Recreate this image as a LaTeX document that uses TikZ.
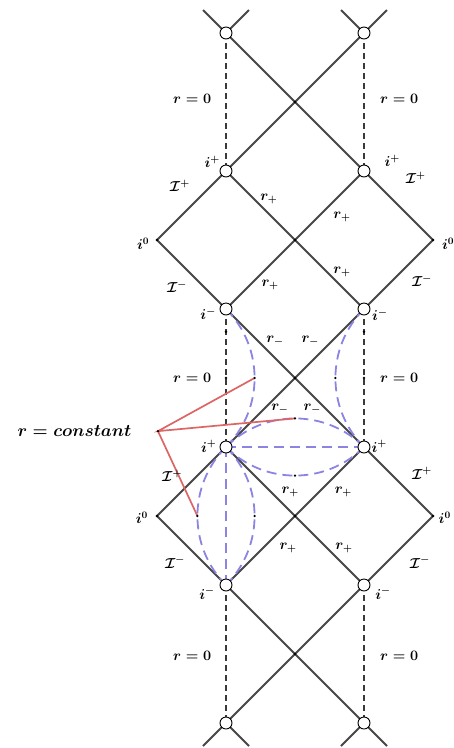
\documentclass[tikz,border=0pt]{standalone}
\usepackage{amsmath}
\usepackage{bm}
\usetikzlibrary{calc}
\definecolor{nullgray}{HTML}{474747}
\definecolor{singgray}{HTML}{3A3A3A}
\definecolor{rconstblue}{HTML}{8C84E2}
\definecolor{pointerred}{HTML}{DC6666}

\begin{document}
\begin{tikzpicture}[x=69pt, y=69pt,
	wline/.style={nullgray, line width=2pt},
	sing/.style={singgray, line width=2.2pt, dash pattern=on 6pt off 4pt},
	rconst/.style={rconstblue, line width=1.8pt, dash pattern=on 10pt off 6pt},
	pointer/.style={pointerred, line width=1.7pt},
	bdry/.style={circle, draw=black, fill=white, line width=0.9pt,
		inner sep=0pt, minimum size=12pt},
	lbl/.style={font=\fontsize{14}{16}\selectfont\boldmath, inner sep=0pt},
	gpoint/.style={circle, fill=black, inner sep=0pt, minimum size=2.6pt}]
	
	\useasboundingbox (-3.2754,0.4783) rectangle (3.3043,-10.3623);
	
	% Corner points on r = 0
	\foreach \k in {0,...,5} {
		\coordinate (L\k) at (0,-2*\k);
		\coordinate (R\k) at (2,-2*\k);
	}
	% Spatial infinity
	\coordinate (WL1) at (-1,-3);
	\coordinate (WR1) at (3,-3);
	\coordinate (WL3) at (-1,-7);
	\coordinate (WR3) at (3,-7);
	% Stub ends
	\coordinate (tl1) at (-0.3333,0.3333);
	\coordinate (tl2) at (0.3333,0.3333);
	\coordinate (tr1) at (1.6667,0.3333);
	\coordinate (tr2) at (2.3333,0.3333);
	\coordinate (bl1) at (-0.3333,-10.3333);
	\coordinate (bl2) at (0.3333,-10.3333);
	\coordinate (br1) at (1.6667,-10.3333);
	\coordinate (br2) at (2.3333,-10.3333);
	
	% --- Null lines ---
	\draw[wline] (tl1) -- (L0) -- (R1) -- (WR1) -- (R2) -- (L3) -- (WL3)
	-- (L4) -- (R5) -- (br2);
	\draw[wline] (tr2) -- (R0) -- (L1) -- (WL1) -- (L2) -- (R3) -- (WR3)
	-- (R4) -- (L5) -- (bl1);
	\draw[wline] (L1) -- (R2);
	\draw[wline] (R1) -- (L2);
	\draw[wline] (L3) -- (R4);
	\draw[wline] (R3) -- (L4);
	\draw[wline] (tl2) -- (L0);
	\draw[wline] (tr1) -- (R0);
	\draw[wline] (bl2) -- (L5);
	\draw[wline] (br1) -- (R5);
	
	% --- Singularities ---
	\foreach \a/\b in {L0/L1,R0/R1,L2/L3,R2/R3,L4/L5,R4/R5}
	\draw[sing] (\a) -- (\b);
	
	% --- r = constant curves ---
	\draw[rconst] (L2) arc[start angle=45, end angle=-45, radius=1.4142];
	\draw[rconst] (R2) arc[start angle=135, end angle=225, radius=1.4142];
	\draw[rconst] (L3) arc[start angle=135, end angle=45, radius=1.4142];
	\draw[rconst] (L3) arc[start angle=225, end angle=315, radius=1.4142];
	\draw[rconst] (L3) arc[start angle=135, end angle=225, radius=1.4142];
	\draw[rconst] (L3) arc[start angle=45, end angle=-45, radius=1.4142];
	\draw[rconst] (L3) -- (R3);
	\draw[rconst] (L3) -- (L4);
	
	% Curve points
	\coordinate (mA) at (0.4142,-5);
	\coordinate (mB) at (1.5858,-5);
	\coordinate (mC) at (1,-5.5858);
	\coordinate (mD) at (1,-6.4142);
	\coordinate (mE) at (-0.4142,-7);
	\coordinate (mF) at (0.4142,-7);
	\coordinate (rc) at (-0.986,-5.77);
	
	% --- Pointer ---
	\draw[pointer] (mA) -- (rc) -- (mC);
	\draw[pointer] (rc) -- (mE);
	\node[font=\fontsize{18.5}{22}\selectfont\boldmath, inner sep=0pt]
	(rconstlbl) at (-2.196,-5.77) {$r = constant$};
	
	% Small points
	\foreach \p [count=\n] in {(1,-1),(1,-3),(1,-5),(1,-7),(1,-9),
		(WL1),(WR1),(WL3),(WR3),(mA),(mB),(mC),(mD),(mE),(mF),(rc),
		(0,-4.33),(0,-5),(2,-4.33),(2,-5)}
	\node[gpoint] (pt\n) at \p {};
	
	% --- Boundary points ---
	\foreach \p in {L0,L1,L2,L3,L4,L5,R0,R1,R2,R3,R4,R5}
	\node[bdry] (o\p) at (\p) {};
	
	% --- Labels ---
	\foreach \y [count=\n] in {-0.96,-5,-9.03} {
		\node[lbl] (rzl\n) at (-0.49,\y) {$r = 0$};
		\node[lbl] (rzr\n) at (2.51,\y) {$r = 0$};
	}
	% i+ / i- / i0
	\node[lbl] (ipA) at (-0.2,-1.87) {$i^{+}$};
	\node[lbl] (ipB) at (2.41,-1.85) {$i^{+}$};
	\node[lbl] (ipC) at (-0.25,-5.99) {$i^{+}$};
	\node[lbl] (ipD) at (2.22,-5.99) {$i^{+}$};
	\node[lbl] (imA) at (-0.26,-4.07) {$i^{-}$};
	\node[lbl] (imB) at (2.23,-4.09) {$i^{-}$};
	\node[lbl] (imC) at (-0.275,-8.12) {$i^{-}$};
	\node[lbl] (imD) at (2.275,-8.12) {$i^{-}$};
	\node[lbl] (izA) at (-1.2,-3.06) {$i^{0}$};
	\node[lbl] (izB) at (3.22,-3.06) {$i^{0}$};
	\node[lbl] (izC) at (-1.22,-7.03) {$i^{0}$};
	\node[lbl] (izD) at (3.17,-7.03) {$i^{0}$};
	% Null infinity
	\node[lbl] (sipA) at (-0.67,-2.22) {$\mathcal{I}^{+}$};
	\node[lbl] (sipB) at (2.75,-2.1) {$\mathcal{I}^{+}$};
	\node[lbl] (sipC) at (-0.78,-6.42) {$\mathcal{I}^{+}$};
	\node[lbl] (sipD) at (2.84,-6.38) {$\mathcal{I}^{+}$};
	\node[lbl] (simA) at (-0.71,-3.68) {$\mathcal{I}^{-}$};
	\node[lbl] (simB) at (2.84,-3.59) {$\mathcal{I}^{-}$};
	\node[lbl] (simC) at (-0.74,-7.67) {$\mathcal{I}^{-}$};
	\node[lbl] (simD) at (2.81,-7.67) {$\mathcal{I}^{-}$};
	% Horizons
	\node[lbl] (hpA) at (0.62,-2.41) {$r_{+}$};
	\node[lbl] (hpB) at (1.68,-2.67) {$r_{+}$};
	\node[lbl] (hpC) at (1.68,-3.46) {$r_{+}$};
	\node[lbl] (hpD) at (0.64,-3.65) {$r_{+}$};
	\node[lbl] (hpE) at (0.93,-6.65) {$r_{+}$};
	\node[lbl] (hpF) at (1.7,-6.65) {$r_{+}$};
	\node[lbl] (hpG) at (0.9,-7.46) {$r_{+}$};
	\node[lbl] (hpH) at (1.71,-7.46) {$r_{+}$};
	\node[lbl] (hmA) at (0.71,-4.46) {$r_{-}$};
	\node[lbl] (hmB) at (1.22,-4.46) {$r_{-}$};
	\node[lbl] (hmC) at (0.78,-5.45) {$r_{-}$};
	\node[lbl] (hmD) at (1.25,-5.45) {$r_{-}$};
	
\end{tikzpicture}
\end{document}
